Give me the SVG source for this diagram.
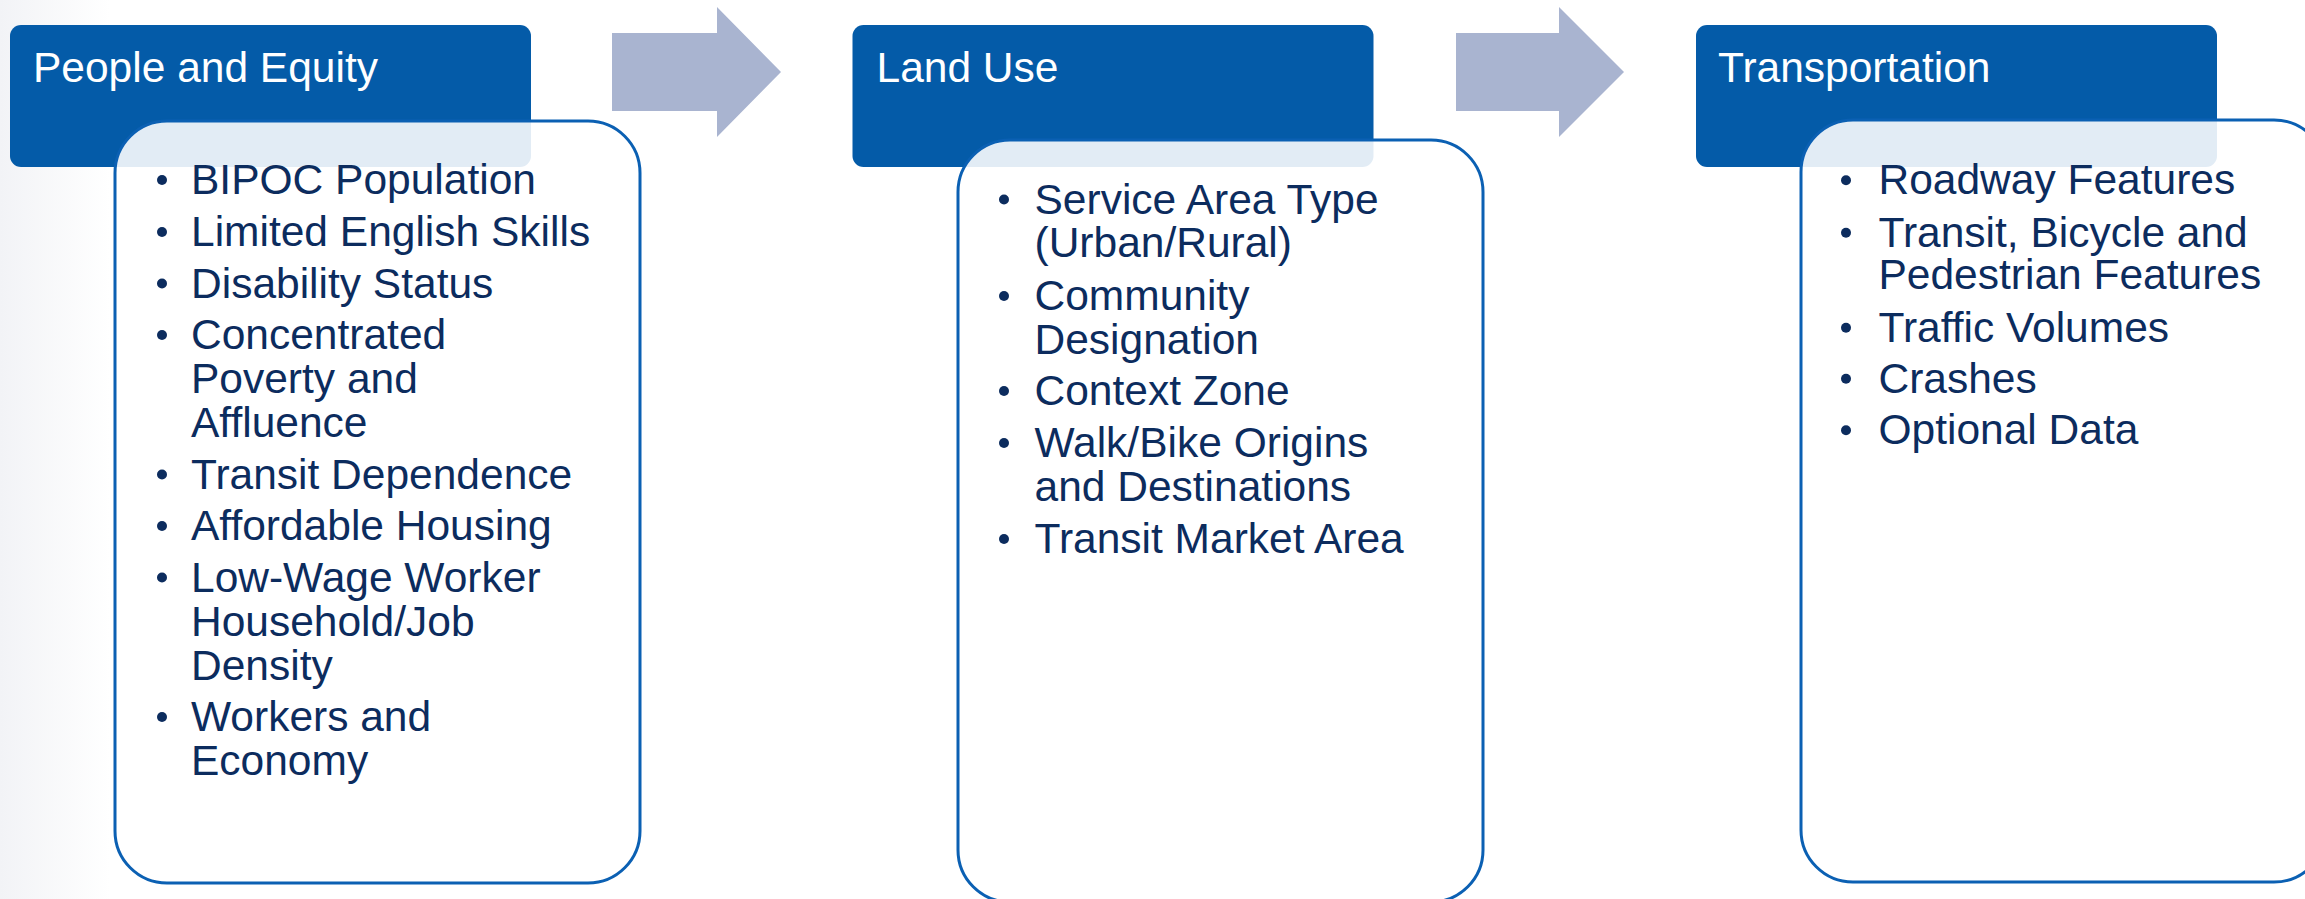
<svg xmlns="http://www.w3.org/2000/svg" width="2305" height="899" viewBox="0 0 2305 899">
  <defs>
    <linearGradient id="bgShade" x1="0" y1="0" x2="1" y2="0">
      <stop offset="0" stop-color="#f2f3f6"/>
      <stop offset="1" stop-color="#ffffff"/>
    </linearGradient>
    <style>
      .hdr { fill: #045ba8; }
      .body { fill: #ffffff; fill-opacity: 0.885; stroke: #0b60b3; stroke-width: 3; }
      .htxt { font-family: "Liberation Sans", Arial, sans-serif; font-size: 42.5px; fill: #ffffff; }
      .btxt { font-family: "Liberation Sans", Arial, sans-serif; font-size: 42.5px; fill: #0c2c5e; }
      .dot { fill: #0c2c5e; }
      .arrow { fill: #a9b4d0; }
    </style>
  </defs>
  <rect x="0" y="0" width="2305" height="899" fill="#ffffff"/>
  <rect x="0" y="0" width="110" height="899" fill="url(#bgShade)"/>

  <g id="connectors">
    <polygon class="arrow" points="612,33 717,33 717,7 781,72 717,137 717,111 612,111"/>
    <polygon class="arrow" points="1456,33 1559,33 1559,7 1624,72 1559,137 1559,111 1456,111"/>
  </g>

  <g id="people-equity">
    <rect class="hdr" x="10" y="25" width="521" height="142" rx="11"/>
    <text class="htxt" x="33" y="82">People and Equity</text>
    <rect class="body" x="115" y="121" width="525" height="762" rx="52"/>
    <g class="btxt">
      <text class="btxt" x="191" y="194">BIPOC Population</text>
      <text class="btxt" x="191" y="246">Limited English Skills</text>
      <text class="btxt" x="191" y="297.5">Disability Status</text>
      <text class="btxt" x="191" y="349">Concentrated</text>
      <text class="btxt" x="191" y="393">Poverty and</text>
      <text class="btxt" x="191" y="437">Affluence</text>
      <text class="btxt" x="191" y="488.5">Transit Dependence</text>
      <text class="btxt" x="191" y="540">Affordable Housing</text>
      <text class="btxt" x="191" y="591.5">Low-Wage Worker</text>
      <text class="btxt" x="191" y="635.5">Household/Job</text>
      <text class="btxt" x="191" y="679.5">Density</text>
      <text class="btxt" x="191" y="731">Workers and</text>
      <text class="btxt" x="191" y="775">Economy</text>
    </g>
    <circle class="dot" cx="162" cy="180" r="5"/>
    <circle class="dot" cx="162" cy="232" r="5"/>
    <circle class="dot" cx="162" cy="283.5" r="5"/>
    <circle class="dot" cx="162" cy="335" r="5"/>
    <circle class="dot" cx="162" cy="474.5" r="5"/>
    <circle class="dot" cx="162" cy="526" r="5"/>
    <circle class="dot" cx="162" cy="577.5" r="5"/>
    <circle class="dot" cx="162" cy="717" r="5"/>
  </g>

  <g id="land-use">
    <rect class="hdr" x="852.5" y="25" width="521" height="142" rx="11"/>
    <text class="htxt" x="876.5" y="82">Land Use</text>
    <rect class="body" x="958" y="140" width="525" height="762" rx="52"/>
    <text class="btxt" x="1034.5" y="213.5">Service Area Type</text>
    <text class="btxt" x="1034.5" y="257">(Urban/Rural)</text>
    <text class="btxt" x="1034.5" y="310">Community</text>
    <text class="btxt" x="1034.5" y="354">Designation</text>
    <text class="btxt" x="1034.5" y="405">Context Zone</text>
    <text class="btxt" x="1034.5" y="457">Walk/Bike Origins</text>
    <text class="btxt" x="1034.5" y="501">and Destinations</text>
    <text class="btxt" x="1034.5" y="553">Transit Market Area</text>
    <circle class="dot" cx="1004" cy="199.5" r="5"/>
    <circle class="dot" cx="1004" cy="296" r="5"/>
    <circle class="dot" cx="1004" cy="391" r="5"/>
    <circle class="dot" cx="1004" cy="443" r="5"/>
    <circle class="dot" cx="1004" cy="539" r="5"/>
  </g>

  <g id="transportation">
    <rect class="hdr" x="1696" y="25" width="521" height="142" rx="11"/>
    <text class="htxt" x="1718" y="82">Transportation</text>
    <rect class="body" x="1801" y="120" width="525" height="762" rx="52"/>
    <text class="btxt" x="1878.5" y="194.3">Roadway Features</text>
    <text class="btxt" x="1878.5" y="246.7">Transit, Bicycle and</text>
    <text class="btxt" x="1878.5" y="289.3">Pedestrian Features</text>
    <text class="btxt" x="1878.5" y="341.7">Traffic Volumes</text>
    <text class="btxt" x="1878.5" y="392.7">Crashes</text>
    <text class="btxt" x="1878.5" y="444.3">Optional Data</text>
    <circle class="dot" cx="1846" cy="180.3" r="5"/>
    <circle class="dot" cx="1846" cy="232.7" r="5"/>
    <circle class="dot" cx="1846" cy="327.7" r="5"/>
    <circle class="dot" cx="1846" cy="378.7" r="5"/>
    <circle class="dot" cx="1846" cy="430.3" r="5"/>
  </g>
</svg>
